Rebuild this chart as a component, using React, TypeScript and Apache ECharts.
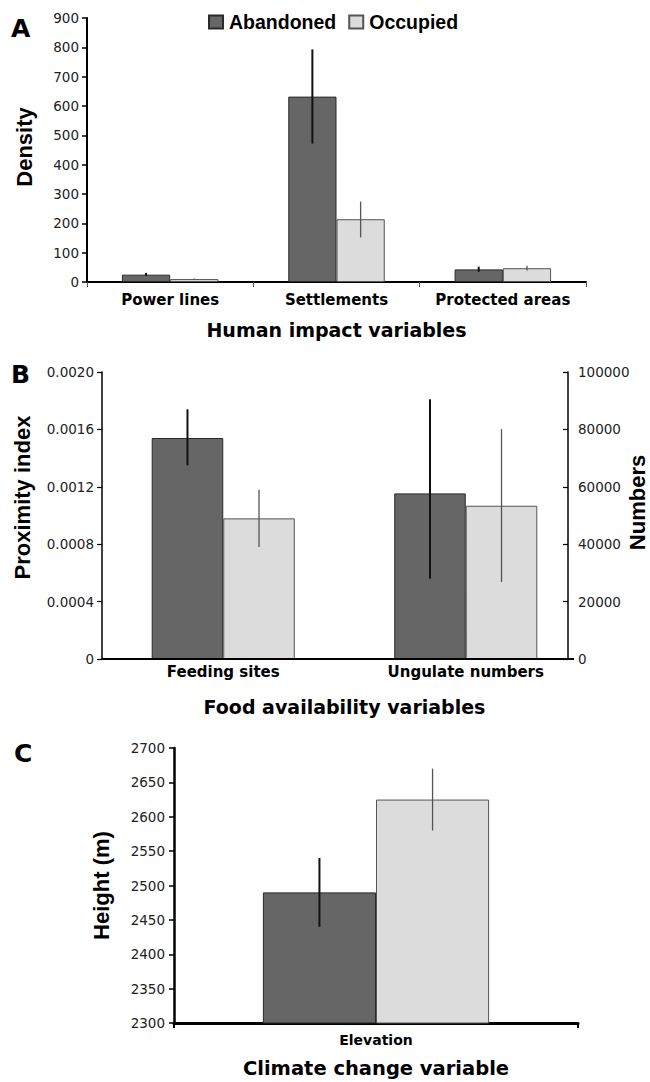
import React, { useEffect, useRef } from 'react';
import * as echarts from 'echarts';

// ---- data ----
const seriesNames = ['Abandoned', 'Occupied'];

const humanCategories = ['Power lines', 'Settlements', 'Protected areas'];
const humanAbandoned = [25, 632, 43];
const humanOccupied = [10, 214, 47];
const humanAbandonedLow = [21, 472, 35];
const humanAbandonedHigh = [31, 793, 52];
const humanOccupiedLow = [8, 152, 39];
const humanOccupiedHigh = [12, 274, 55];
const densityTicks = { min: 0, max: 900, interval: 100 };

const foodCategories = ['Feeding sites', 'Ungulate numbers'];
const proximityAbandoned = [0.00154, null];
const proximityOccupied = [0.00098, null];
const proximityAbandonedLow = [0.00135, null];
const proximityAbandonedHigh = [0.00174, null];
const proximityOccupiedLow = [0.00078, null];
const proximityOccupiedHigh = [0.00118, null];
const numbersAbandoned = [null, 57700];
const numbersOccupied = [null, 53400];
const numbersAbandonedLow = [null, 28000];
const numbersAbandonedHigh = [null, 90500];
const numbersOccupiedLow = [null, 26800];
const numbersOccupiedHigh = [null, 80100];
const proximityTicks = { min: 0, max: 0.002, interval: 0.0004 };
const numbersTicks = { min: 0, max: 100000, interval: 20000 };

const climateCategories = ['Elevation'];
const heightAbandoned = [2490];
const heightOccupied = [2625];
const heightAbandonedLow = [2440];
const heightAbandonedHigh = [2540];
const heightOccupiedLow = [2580];
const heightOccupiedHigh = [2670];
const heightTicks = { min: 2300, max: 2700, interval: 50 };

// ---- styles ----
const DARK = '#666666';
const LIGHT = '#dcdcdc';
const NUM_FONT = 'DejaVu Sans';
const TITLE_FONT = 'DejaVu Sans';
const VTITLE_FONT = 'Liberation Sans';

function errData(low: (number | null)[], high: (number | null)[]) {
  const out: number[][] = [];
  low.forEach((l, i) => {
    const h = high[i];
    if (l != null && h != null) out.push([i, l, h]);
  });
  return out;
}

function errorSeries(
  name: string,
  side: number,
  gap: number,
  color: string,
  width: number,
  data: number[][],
  xAxisIndex: number,
  yAxisIndex: number
) {
  return {
    type: 'custom',
    name,
    xAxisIndex,
    yAxisIndex,
    z: 5,
    silent: true,
    encode: { x: 0, y: [1, 2] },
    data,
    renderItem: (params: any, api: any) => {
      const cat = api.value(0);
      const lo = api.value(1);
      const hi = api.value(2);
      const band = api.size([1, 0])[0];
      const barW = (band * (1 - gap)) / 2;
      const dx = (side * barW) / 2;
      const p1 = api.coord([cat, lo]);
      const p2 = api.coord([cat, hi]);
      return {
        type: 'line',
        shape: { x1: p1[0] + dx, y1: p1[1], x2: p2[0] + dx, y2: p2[1] },
        style: { stroke: color, lineWidth: width },
      };
    },
  };
}

function barSeries(name: string, data: (number | null)[], gap: string, xAxisIndex: number, yAxisIndex: number) {
  const dark = name === seriesNames[0];
  return {
    type: 'bar',
    name,
    xAxisIndex,
    yAxisIndex,
    data,
    barGap: '0%',
    barCategoryGap: gap,
    itemStyle: {
      color: dark ? DARK : LIGHT,
      borderColor: dark ? '#2a2a2a' : '#555555',
      borderWidth: 1,
    },
  };
}

const numLabel = (fmt?: (v: number) => string) => ({
  fontFamily: NUM_FONT,
  fontSize: 13.5,
  color: '#222',
  formatter: fmt || ((v: number) => String(v)),
});

const vName = (pad: number) => ({
  fontFamily: VTITLE_FONT,
  fontWeight: 'bold',
  fontSize: 22,
  color: '#000',
  padding: [0, 0, 0, pad],
});

const hName = (size: number) => ({
  fontFamily: TITLE_FONT,
  fontWeight: 'bold',
  fontSize: size,
  color: '#000',
});

const catLabel = (size: number, margin: number) => ({
  fontFamily: TITLE_FONT,
  fontWeight: 'bold',
  fontSize: size,
  color: '#000',
  margin,
  interval: 0,
});

export default function App() {
  const ref = useRef<HTMLDivElement>(null);

  useEffect(() => {
    document.body.style.margin = '0';
    const chart = echarts.init(ref.current as HTMLDivElement, null, { renderer: 'svg' });
    const GA = 0.42;
    const GB = 0.41;
    const GC = 0.44;

    const option: any = {
      animation: false,
      backgroundColor: '#ffffff',
      legend: {
        data: seriesNames,
        left: 203,
        top: 7,
        icon: 'rect',
        itemWidth: 14,
        itemHeight: 13,
        itemGap: 12,
        textStyle: {
          fontFamily: VTITLE_FONT,
          fontWeight: 'bold',
          fontSize: 19.5,
          color: '#000',
          padding: [0, 0, 0, 1],
        },
      },
      grid: [
        { left: 87, top: 18, width: 499, height: 264, outerBoundsMode: 'none' },
        { left: 102, top: 372, width: 485, height: 287, outerBoundsMode: 'none' },
        { left: 102, top: 372, width: 485, height: 287, outerBoundsMode: 'none' },
        { left: 174, top: 748, width: 404, height: 275, outerBoundsMode: 'none' },
      ],
      xAxis: [
        {
          type: 'category',
          gridIndex: 0,
          data: humanCategories,
          axisLine: { lineStyle: { color: '#000', width: 2 } },
          axisTick: { show: true, length: 5, lineStyle: { color: '#555', width: 1 } },
          axisLabel: catLabel(15, 10),
          name: 'Human impact variables',
          nameLocation: 'middle',
          nameGap: 38,
          nameTextStyle: hName(19),
        },
        {
          type: 'category',
          gridIndex: 1,
          data: foodCategories,
          axisLine: { show: false },
          axisTick: { show: false },
          axisLabel: catLabel(15, 5),
          name: 'Food availability variables',
          nameLocation: 'middle',
          nameGap: 38,
          nameTextStyle: hName(19),
        },
        {
          type: 'category',
          gridIndex: 2,
          data: foodCategories,
          show: false,
        },
        {
          type: 'category',
          gridIndex: 3,
          data: climateCategories,
          axisLine: { lineStyle: { color: '#000', width: 3 } },
          axisTick: { show: true, length: 5, lineStyle: { color: '#000', width: 2 } },
          axisLabel: catLabel(14, 10),
          name: 'Climate change variable',
          nameLocation: 'middle',
          nameGap: 35,
          nameTextStyle: hName(19.5),
        },
      ],
      yAxis: [
        {
          type: 'value',
          gridIndex: 0,
          ...densityTicks,
          splitLine: { show: false },
          axisLine: { show: true, lineStyle: { color: '#000', width: 2 } },
          axisTick: { show: true, length: 5, lineStyle: { color: '#000', width: 1.5 } },
          axisLabel: { ...numLabel(), margin: 8 },
          name: 'Density',
          nameLocation: 'middle',
          nameRotate: 90,
          nameGap: 52,
          nameTextStyle: vName(6),
        },
        {
          type: 'value',
          gridIndex: 1,
          ...proximityTicks,
          splitLine: { show: false },
          axisLine: { show: true, lineStyle: { color: '#000', width: 1.5 } },
          axisTick: { show: true, length: 5, lineStyle: { color: '#000', width: 1.2 } },
          axisLabel: { ...numLabel((v: number) => (v === 0 ? '0' : v.toFixed(4))), margin: 8 },
          name: 'Proximity index',
          nameLocation: 'middle',
          nameRotate: 90,
          nameGap: 69,
          nameTextStyle: vName(36),
        },
        {
          type: 'value',
          gridIndex: 2,
          position: 'right',
          offset: -19,
          ...numbersTicks,
          splitLine: { show: false },
          axisLine: { show: true, lineStyle: { color: '#000', width: 1.5 } },
          axisTick: { show: true, inside: true, length: 5, lineStyle: { color: '#000', width: 1.2 } },
          axisLabel: { ...numLabel(), margin: 10 },
          name: 'Numbers',
          nameLocation: 'middle',
          nameRotate: 90,
          nameGap: 58,
          nameMoveOverlap: false,
          nameTextStyle: vName(26),
        },
        {
          type: 'value',
          gridIndex: 3,
          ...heightTicks,
          splitLine: { show: false },
          axisLine: { show: true, lineStyle: { color: '#000', width: 2.5 } },
          axisTick: { show: true, length: 5, lineStyle: { color: '#000', width: 1.5 } },
          axisLabel: { ...numLabel(), margin: 9 },
          name: 'Height (m)',
          nameLocation: 'middle',
          nameRotate: 90,
          nameGap: 62,
          nameTextStyle: vName(0),
        },
      ],
      series: [
        barSeries(seriesNames[0], humanAbandoned, '42%', 0, 0),
        barSeries(seriesNames[1], humanOccupied, '42%', 0, 0),
        errorSeries(seriesNames[0], -1, GA, '#111', 2, errData(humanAbandonedLow, humanAbandonedHigh), 0, 0),
        errorSeries(seriesNames[1], 1, GA, '#555', 1.3, errData(humanOccupiedLow, humanOccupiedHigh), 0, 0),

        barSeries(seriesNames[0], proximityAbandoned, '41%', 1, 1),
        barSeries(seriesNames[1], proximityOccupied, '41%', 1, 1),
        errorSeries(seriesNames[0], -1, GB, '#111', 2, errData(proximityAbandonedLow, proximityAbandonedHigh), 1, 1),
        errorSeries(seriesNames[1], 1, GB, '#555', 1.3, errData(proximityOccupiedLow, proximityOccupiedHigh), 1, 1),

        barSeries(seriesNames[0], numbersAbandoned, '41%', 2, 2),
        barSeries(seriesNames[1], numbersOccupied, '41%', 2, 2),
        errorSeries(seriesNames[0], -1, GB, '#111', 2, errData(numbersAbandonedLow, numbersAbandonedHigh), 2, 2),
        errorSeries(seriesNames[1], 1, GB, '#555', 1.3, errData(numbersOccupiedLow, numbersOccupiedHigh), 2, 2),

        barSeries(seriesNames[0], heightAbandoned, '44%', 3, 3),
        barSeries(seriesNames[1], heightOccupied, '44%', 3, 3),
        errorSeries(seriesNames[0], -1, GC, '#111', 2, errData(heightAbandonedLow, heightAbandonedHigh), 3, 3),
        errorSeries(seriesNames[1], 1, GC, '#555', 1.3, errData(heightOccupiedLow, heightOccupiedHigh), 3, 3),
      ],
      graphic: [
        {
          type: 'text',
          left: 11,
          top: 16,
          style: { text: 'A', fontFamily: TITLE_FONT, fontWeight: 'bold', fontSize: 25, fill: '#000' },
        },
        {
          type: 'text',
          left: 11,
          top: 362,
          style: { text: 'B', fontFamily: TITLE_FONT, fontWeight: 'bold', fontSize: 25, fill: '#000' },
        },
        {
          type: 'text',
          left: 14,
          top: 741,
          style: { text: 'C', fontFamily: TITLE_FONT, fontWeight: 'bold', fontSize: 25, fill: '#000' },
        },
        {
          type: 'line',
          z: 10,
          shape: { x1: 102, y1: 659, x2: 574, y2: 659 },
          style: { stroke: '#000', lineWidth: 2 },
        },
      ],
    };

    chart.setOption(option);
    return () => chart.dispose();
  }, []);

  return <div ref={ref} style={{ width: 650, height: 1082 }} />;
}
